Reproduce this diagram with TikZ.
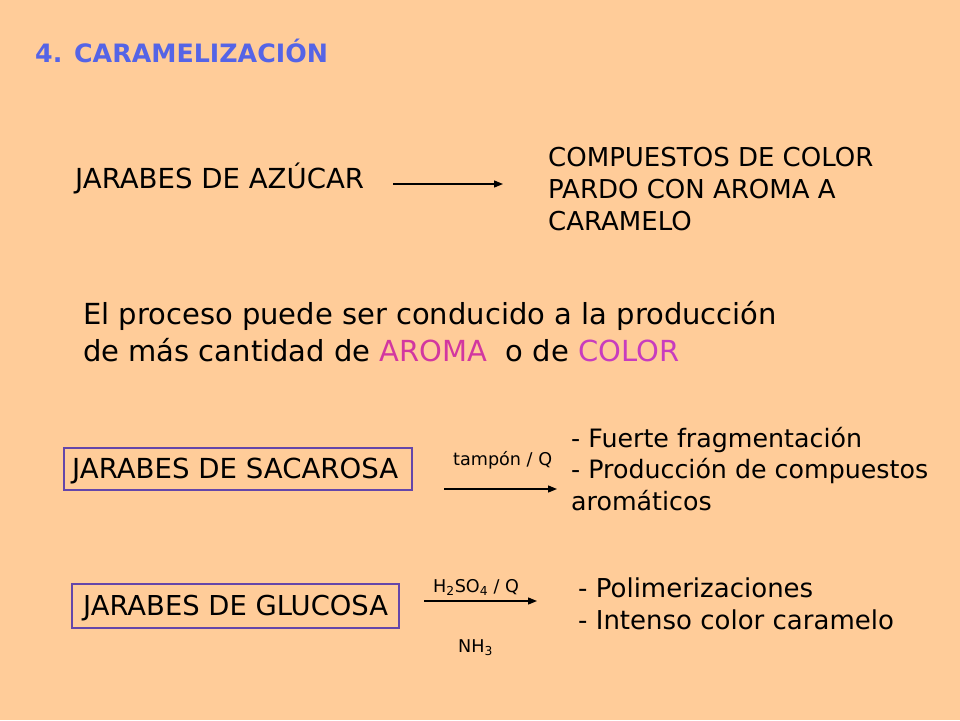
\documentclass[tikz,border=0pt]{standalone}
\usepackage{fontspec}
\setmainfont{DejaVu Sans}
\usetikzlibrary{arrows.meta,positioning}
\definecolor{fondo}{RGB}{255,204,153}
\definecolor{titulo}{RGB}{85,100,230}
\definecolor{aroma}{RGB}{210,55,160}
\definecolor{colorc}{RGB}{200,60,190}
\definecolor{borde}{RGB}{100,70,170}

\begin{document}
\begin{tikzpicture}[
  x=1pt, y=-1pt,
  every node/.style={inner sep=0pt, anchor=base west,
    font=\fontsize{26}{32}\selectfont},
  txt/.style={align=left},
  caps/.style={font=\fontsize{27.6}{32}\selectfont},
  tit/.style={text=titulo, font=\fontsize{25.3}{32}\selectfont\bfseries},
  big/.style={align=left, font=\fontsize{29}{37}\selectfont},
  small/.style={font=\fontsize{17.6}{20}\selectfont},
  caja/.style={draw=borde, line width=1.2pt, anchor=center},
  arr/.style={-{Triangle[length=9pt,width=7pt]}, line width=1.3pt}
]
  \fill[fondo] (0,0) rectangle (960,720);
  \useasboundingbox (0,0) rectangle (960,720);

  \node[tit] (title) at (35,62) {4. CARAMELIZACIÓN};

  % jarabes de azucar
  \node[caps] (azucar) at (75,188) {JARABES DE AZÚCAR};
  \node[txt] (pardo) at (548,230) {COMPUESTOS DE COLOR\\PARDO CON AROMA A\\CARAMELO};
  \coordinate (a1s) at (393,184);
  \coordinate (a1e) at (503,184);
  \draw[arr] (a1s) -- (a1e);

  \node[big] (proceso) at (83,361) {El proceso puede ser conducido a la producción\\de más cantidad de \textcolor{aroma}{AROMA}\ \ o de \textcolor{colorc}{COLOR}};

  % sacarosa
  \node[caja, minimum width=348pt, minimum height=42pt] (sacarosa) at (238,469) {};
  \node[caps] (sactxt) at (72,478) {JARABES DE SACAROSA};
  \node[small] (tampon) at (453,465) {tampón / Q};
  \coordinate (a2s) at (444,489);
  \coordinate (a2e) at (557,489);
  \draw[arr] (a2s) -- (a2e);
  \node[txt, font=\fontsize{25.3}{31.5}\selectfont] (frag) at (571,510) {- Fuerte fragmentación\\- Producción de compuestos\\aromáticos};

  % glucosa
  \node[caja, minimum width=327pt, minimum height=44pt] (glucosa) at (235.5,606) {};
  \node[caps, font=\fontsize{27.4}{32}\selectfont] (glutxt) at (83,615) {JARABES DE GLUCOSA};
  \node[small] (acido) at (433,592) {H\textsubscript{2}SO\textsubscript{4} / Q};
  \coordinate (a3s) at (424,601);
  \coordinate (a3e) at (537,601);
  \draw[arr] (a3s) -- (a3e);
  \node[small] (amon) at (458,652) {NH\textsubscript{3}};
  \node[txt] (polim) at (578,629) {- Polimerizaciones\\- Intenso color caramelo};
\end{tikzpicture}
\end{document}
